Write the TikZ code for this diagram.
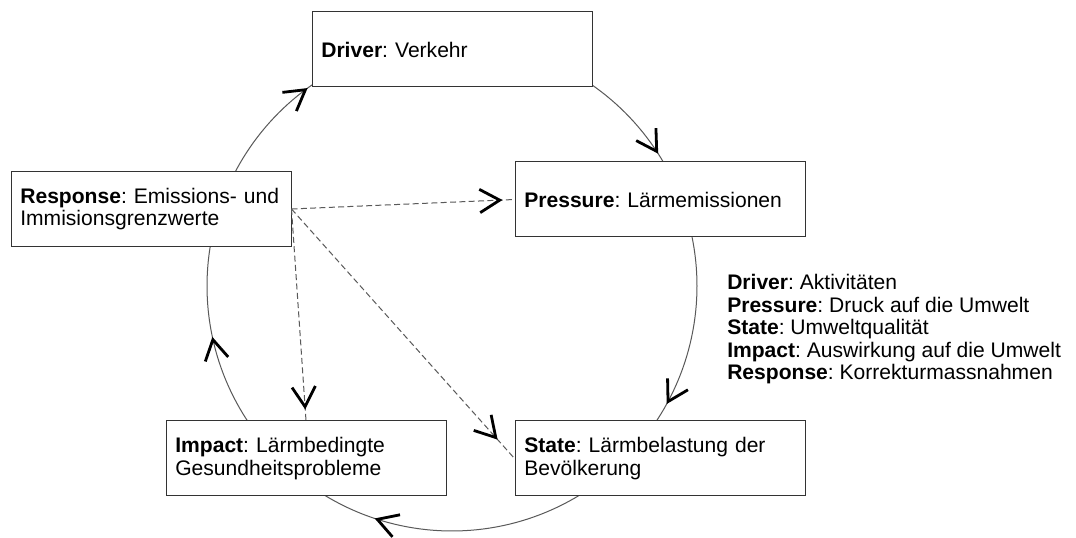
\documentclass[tikz,border=0pt]{standalone}
\usepackage{fontspec}
\setmainfont{Liberation Sans}
\frenchspacing
\usetikzlibrary{arrows.meta,decorations.markings,calc,backgrounds}
\tikzset{
  myhead/.tip={Straight Barb[length=15pt,width=17.5pt,line width=2.1pt,color=black]},
}
\begin{document}
\begin{tikzpicture}[x=0.75pt,y=-0.75pt,
  font=\fontsize{15.8}{16.9}\selectfont,
  box/.style={draw=black!80, fill=white, line width=0.75pt, rectangle,
    minimum height=56.25pt, inner xsep=7pt, inner ysep=0pt, align=left},
  narrowbox/.style={box, text width=196pt},
  widebox/.style={box, text width=203.5pt},
  ring/.style={draw=black!65, line width=0.75pt},
  dep/.style={draw=black!65, line width=0.75pt, dash pattern=on 4.5pt off 2.5pt},
]
\useasboundingbox (0,0) rectangle (1076,538);

\node[narrowbox] (driver) at (452,49.5) {\textbf{Driver}: Verkehr};
\node[widebox]   (press)  at (660,199.5) {\textbf{Pressure}: Lärmemissionen};
\node[narrowbox] (resp)   at (151,209) {\textbf{Response}: Emissions-~und\\Immisionsgrenzwerte};
\node[narrowbox] (impact) at (306,458.5) {\textbf{Impact}: Lärmbedingte\\Gesundheitsprobleme};
\node[widebox]   (state)  at (660,458.5) {\textbf{State}: Lärmbelastung der\\Bevölkerung};

\node[anchor=north west, align=left, inner sep=0pt] (legend) at (727,274)
  {\textbf{Driver}: Aktivitäten\\
   \textbf{Pressure}: Druck auf die Umwelt\\
   \textbf{State}: Umweltqualität\\
   \textbf{Impact}: Auswirkung auf die Umwelt\\
   \textbf{Response}: Korrekturmassnahmen};

\coordinate (c) at (452,286);
\begin{pgfonlayer}{background}
\fill[white] (0,0) rectangle (1076,538);
\draw[ring, shift={(c)}, postaction=decorate, decoration={markings,
    mark=at position 0.0800 with {\arrow{myhead}},
    mark=at position 0.3011 with {\arrow{myhead}},
    mark=at position 0.4667 with {\arrow{myhead}},
    mark=at position 0.6497 with {\arrow{myhead}},
    mark=at position 0.9092 with {\arrow{myhead}}}]
  plot[domain=0:360, samples=241] ({245*cos(\x)},{245*sin(\x)}) -- cycle;
\end{pgfonlayer}

\draw[dep, postaction=decorate, decoration={markings,
    mark=at position -9pt with {\arrow{myhead}}}] (resp.east) -- (press.west);
\draw[dep, postaction=decorate, decoration={markings,
    mark=at position -8.25pt with {\arrow{myhead}}}] (resp.east) -- (impact.north);
\draw[dep, postaction=decorate, decoration={markings,
    mark=at position -19pt with {\arrow{myhead}}}] (resp.east) -- (state.west);
\end{tikzpicture}
\end{document}
